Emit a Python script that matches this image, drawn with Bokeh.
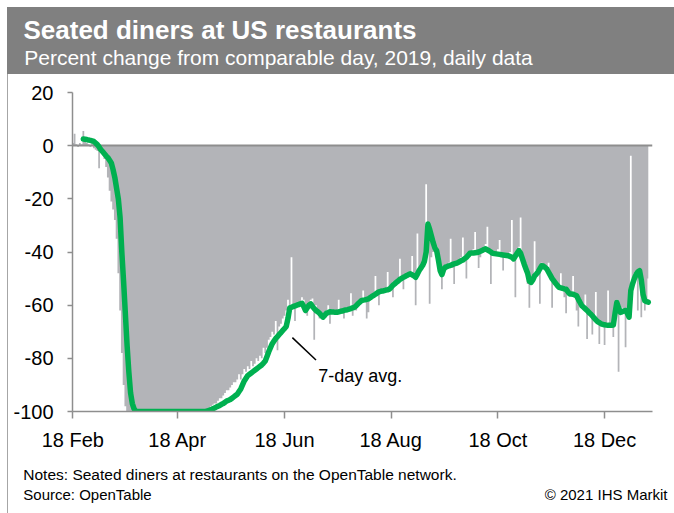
import numpy as np
import pandas as pd
from bokeh.plotting import figure
from bokeh.models import Range1d, FixedTicker, LinearAxis
from bokeh.core.properties import value
from bokeh.embed import file_html
from bokeh.resources import INLINE

# ---------------- data ----------------
start_date = "2020-02-18"

# daily % change vs comparable day 2019 (one value per day from 18 Feb 2020)
daily = [
    1, 4.5, 0.5, -0.5, 1, 0.5, 5.5, 2, 1, 0.5,
    -0.5, 1, -1, -1.5, -2, -8.5, -2, -3, -5, -8,
    -12, -17, -21, -24, -28, -35, -48, -62, -78, -90,
    -98, -100, -100, -100, -100, -100, -100, -100, -100, -100,
    -100, -100, -100, -100, -100, -100, -100, -100, -100, -100,
    -100, -100, -100, -100, -100, -100, -100, -100, -100, -100,
    -100, -100, -100, -100, -100, -100, -100, -100, -100, -100,
    -100, -100, -100, -100, -100, -100, -99.5, -99, -98.5, -98,
    -97.5, -97, -97, -96, -95, -95, -94, -93, -92, -92,
    -91, -90, -89, -89, -88, -86, -88, -86, -84, -85,
    -83, -84, -81, -83, -82, -80, -81, -79, -80, -76,
    -78, -76, -73, -72, -70, -71, -66, -77, -68, -67,
    -65, -64, -62, -58, -60, -42, -61, -66, -60, -59.5,
    -60, -57, -58, -63, -64, -60, -58, -57.5, -73, -60,
    -63, -65, -64, -65, -64, -62, -60, -67, -63, -63,
    -63, -62, -58, -62, -63, -65, -62, -61, -61, -55.5,
    -64, -61, -62, -60, -59, -58.5, -54.5, -58, -65, -62.7,
    -57, -56.5, -56, -49, -55.5, -60, -55, -55, -54.5, -54,
    -47.5, -54, -54, -57, -52, -51.5, -51, -42.5, -50, -54,
    -50, -49, -48.5, -48, -41.5, -49, -60, -33, -47, -46,
    -45, -43, -14.5, -38, -59.5, -42, -40, -39, -38, -45,
    -48, -54, -47, -45, -45, -44, -35, -46, -52, -44,
    -43, -43, -42, -34.5, -43, -50, -41, -40, -40, -39,
    -32.5, -40, -46, -42, -39, -38, -37, -30.5, -40, -52,
    -41, -40, -40, -39, -35.5, -41, -47, -41, -41, -41,
    -40, -28, -43, -57, -41, -38, -27, -44, -46, -47,
    -52, -61, -52, -50, -36, -47, -47, -59.5, -44, -44.5,
    -46, -46, -44, -49, -61, -51, -52, -52, -53, -48,
    -54, -57, -63, -55, -56, -55, -49, -57, -62, -68,
    -59, -60, -60, -56, -72.7, -63, -63, -71, -64, -55,
    -66, -74.6, -67, -68, -75, -67, -54.5, -67, -68, -72,
    -62, -58, -85, -62, -61, -62, -75.8, -64, -55, -3.8,
    -50, -48, -48, -62, -46, -64.5, -55, -62, -58, -50,
]

# 7-day average, first value on 24 Feb 2020 (day 6)
avg_first_day = 6
avg7 = [
    2.5, 2.4, 2.3, 2.1, 2.0, 1.8, 1.6, 1.0, 0.4, -0.5,
    -1.5, -2.2, -3, -3.8, -4.5, -5.5, -6.5, -9, -12, -16,
    -20, -27, -40, -51, -63, -75, -85, -93, -97, -99,
    -100, -100, -100, -100, -100, -100, -100, -100, -100, -100,
    -100, -100, -100, -100, -100, -100, -100, -100, -100, -100,
    -100, -100, -100, -100, -100, -100, -100, -100, -100, -100,
    -100, -100, -100, -100, -100, -100, -100, -100, -100, -100,
    -100, -99.8, -99.5, -99.3, -99, -98.7, -98.3, -98, -97.7, -97.3,
    -97, -96.5, -96, -95.8, -95.5, -95, -94.5, -94, -93.5, -92.5,
    -91.5, -90, -88.5, -87.5, -86.5, -86, -85.5, -85, -84.5, -84,
    -83.5, -83, -82.5, -81.8, -81, -79.3, -77.5, -76, -74.5, -73.5,
    -72.5, -71.8, -71, -70.3, -69.5, -68.8, -68, -65, -61, -60.8,
    -60.5, -60.3, -60, -59.8, -59.5, -59.3, -60.5, -62, -61, -60,
    -59.5, -60.5, -61.3, -62, -62.5, -63, -63.8, -64.5, -63.8, -63,
    -62.8, -62.5, -62.6, -62.6, -62.7, -62.7, -62.5, -62.3, -62.2, -62,
    -61.8, -61.7, -61.5, -61.3, -61, -60.8, -60.2, -59.5, -58.9, -58.3,
    -58.1, -58, -57.8, -57.6, -57.2, -56.7, -56.3, -55.9, -55.4, -55,
    -54.8, -54.7, -54.5, -54.3, -54.2, -54, -53.3, -52.5, -52, -51.4,
    -50.9, -50.3, -49.9, -49.5, -49.2, -48.8, -48.5, -48.2, -48.6, -49,
    -49.5, -48.3, -47, -46, -45, -43.5, -40, -29.5, -31.5, -34,
    -36.5, -38.5, -39.5, -43, -47, -48.5, -46.5, -45.7, -45.5, -45.2,
    -45, -44.7, -44.5, -44.3, -44, -43.7, -43.3, -43, -42.5, -42,
    -41.3, -40.5, -40.4, -40.4, -40.3, -40.2, -40, -39.7, -39.4, -39.1,
    -38.8, -39.2, -39.6, -40, -40.5, -40.6, -40.7, -40.8, -40.9, -41,
    -41.1, -41.2, -41.3, -41.4, -41.7, -42, -42.6, -41.5, -40.5, -39.5,
    -40.5, -42.5, -44.5, -46.3, -48, -51, -51.4, -50.5, -49, -48.3,
    -47.5, -46.3, -45.2, -45.3, -45.8, -46.4, -47.6, -48.8, -50, -50.9,
    -51.8, -52.6, -53.3, -53.5, -53.7, -53.9, -54, -54.9, -55.8, -55.8,
    -55.9, -56.2, -56.5, -57.8, -59, -60.2, -60.8, -61.4, -62, -62.7,
    -63.3, -64, -64.8, -65.5, -66.2, -66.6, -67, -67.2, -67.4, -67.5,
    -67.6, -67.6, -67.6, -67.5, -63, -59, -61, -62.7, -62.5, -62.2,
    -62, -63, -64.5, -54.5, -52, -50, -48.5, -47.5, -47, -50.5,
    -56, -58.3, -58.7, -58.9,
]

x_tick_dates = ["2020-02-18", "2020-04-18", "2020-06-18", "2020-08-18", "2020-10-18", "2020-12-18"]
x_tick_labels = ["18 Feb", "18 Apr", "18 Jun", "18 Aug", "18 Oct", "18 Dec"]
y_ticks = [-100, -80, -60, -40, -20, 0, 20]
y_tick_labels = ["-100", "-80", "-60", "-40", "-20", "0", "20"]

title_text = "Seated diners at US restaurants"
subtitle_text = "Percent change from comparable day, 2019, daily data"
note_text = "Notes: Seated diners at restaurants on the OpenTable network."
source_text = "Source: OpenTable"
copyright_text = "\u00a9 2021 IHS Markit"
avg_label = "7-day avg."

# ---------------- layout constants ----------------
FONT = "Liberation Sans"
W, H = 674, 513
FL, FR, FT, FB = 72, 652, 92, 411       # frame edges in canvas pixels
X0, X1 = -0.2, 331.4                    # x range (days since start)
BAND = "#808080"
EDGE = "#A6A6A6"
AXIS = "#8E8E8E"
BAR = "#B3B4B8"
GREEN = "#00B050"


def px_to_x(px):
    """canvas pixel -> x data coordinate (for placing texts)"""
    return X0 + (px - FL) * (X1 - X0) / (FR - FL)


t0 = pd.Timestamp(start_date)
days = np.arange(len(daily))
avg_days = np.arange(avg_first_day, avg_first_day + len(avg7))
tick_pos = [int((pd.Timestamp(d) - t0).days) for d in x_tick_dates]

band_css = (f"linear-gradient({BAND}, {BAND}) 7px 7px / 667px 67px no-repeat, "
            f"linear-gradient({EDGE}, {EDGE}) 7px 74px / 1px 439px no-repeat, #ffffff")

p = figure(width=W, height=H, x_range=Range1d(X0, X1), y_range=Range1d(-100, 20),
           toolbar_location=None, output_backend="svg", title_location=None,
           min_border_left=FL, min_border_right=W - FR, min_border_top=FT, min_border_bottom=H - FB,
           outline_line_color=None, background_fill_color="white",
           border_fill_color="white", border_fill_alpha=0.0,
           styles={"background": band_css})
p.grid.visible = False

# daily values (continuous stepped bars), zero line and 7-day average
p.varea_step(x=days, y1=np.zeros(len(daily)), y2=daily, step_mode="center", fill_color=BAR)
p.hspan(y=[0], line_color=AXIS, line_width=2)
p.line(avg_days, avg7, line_color=GREEN, line_width=5.5, line_join="round", line_cap="round")

# pointer + label for the 7-day average
p.segment(x0=[125.5], y0=[-72.2], x1=[139.0], y1=[-80.6], line_color="black", line_width=1.5)
p.text(x=[140.3], y=[-86.8], text=[avg_label], text_font=value(FONT),
       text_font_size=value("18px"), text_color="black",
       text_baseline="middle", text_align="left")


def style_axis(ax, size, color="black", tick_out=0, standoff=0, line=None):
    ax.axis_line_color = line
    ax.axis_line_width = 1.5
    ax.major_tick_line_color = line
    ax.major_tick_line_width = 1.5
    ax.major_tick_in = 0
    ax.major_tick_out = tick_out
    ax.minor_tick_line_color = None
    ax.major_label_standoff = standoff
    ax.major_label_text_font = FONT
    ax.major_label_text_font_size = size
    ax.major_label_text_color = color


xa = p.xaxis[0]
xa.ticker = FixedTicker(ticks=tick_pos)
xa.major_label_overrides = {t: l for t, l in zip(tick_pos, x_tick_labels)}
style_axis(xa, "20px", tick_out=7, standoff=10, line=AXIS)

ya = p.yaxis[0]
ya.ticker = FixedTicker(ticks=y_ticks)
ya.major_label_overrides = {t: l for t, l in zip(y_ticks, y_tick_labels)}
style_axis(ya, "20px", tick_out=5, standoff=14, line=AXIS)


def text_axis(labels_at, size, standoff, color="black", bold=False):
    ticks = [px_to_x(c) for c, _ in labels_at]
    ax = LinearAxis(ticker=FixedTicker(ticks=ticks),
                    major_label_overrides={t: s for t, (_, s) in zip(ticks, labels_at)})
    style_axis(ax, size, color=color, standoff=standoff)
    if bold:
        ax.major_label_text_font_style = "bold"
    return ax


# header texts (centred on their measured positions)
p.add_layout(text_axis([(278, subtitle_text)], "21px", 24, color="white"), "above")
p.add_layout(text_axis([(219.5, title_text)], "26px", -2, color="white", bold=True), "above")

# footer texts
p.add_layout(text_axis([(239.5, note_text)], "15.5px", 12), "below")
p.add_layout(text_axis([(87, source_text), (605.6, copyright_text)], "15px", 0), "below")

open("out.html", "w").write(file_html(p, INLINE))
